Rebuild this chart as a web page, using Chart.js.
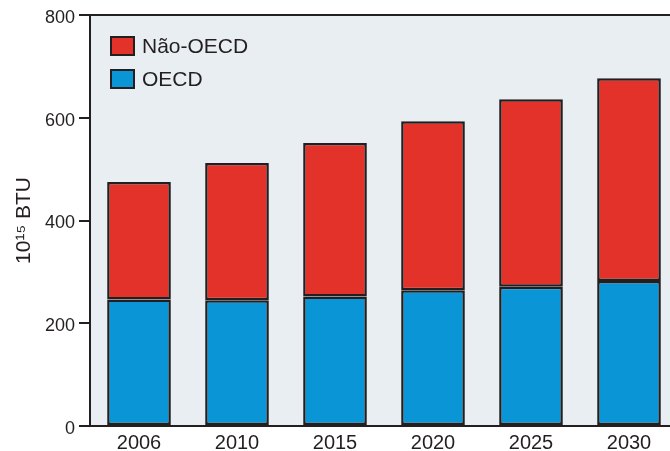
<!DOCTYPE html>
<html>
<head>
<meta charset="utf-8">
<script src="https://cdn.jsdelivr.net/npm/chart.js@4.4.1/dist/chart.umd.min.js"></script>
<style>
    html, body { margin: 0; padding: 0; background: #fff; overflow: hidden; }
    #wrap { width: 680px; height: 451px; }
</style>
</head>
<body>
<div id="wrap"><canvas id="energyChart"></canvas></div>
<script>
const years = ['2006', '2010', '2015', '2020', '2025', '2030'];
const oecd = [246, 245, 252, 264, 271, 282];
const naoOecd = [229, 267, 299, 329, 365, 395];
const yTicks = [0, 200, 400, 600, 800];

const INK = '#231f20';
const FONT = '"Liberation Sans", Arial, sans-serif';

// plot background + top frame line
const framePlugin = {
    id: 'frame',
    beforeDraw(chart) {
        const { ctx, chartArea: a } = chart;
        ctx.save();
        ctx.fillStyle = '#e9eef2';
        ctx.fillRect(a.left, a.top, a.right - a.left, a.bottom - a.top);
        ctx.restore();
    },
    afterDraw(chart) {
        const { ctx, chartArea: a } = chart;
        ctx.save();
        ctx.strokeStyle = INK;
        ctx.lineWidth = 2;
        ctx.beginPath();
        ctx.moveTo(a.left, a.top);
        ctx.lineTo(a.right, a.top);
        ctx.stroke();
        ctx.restore();
    }
};

// legend drawn inside the plot, top-left
const insideLegend = {
    id: 'insideLegend',
    afterDraw(chart) {
        const { ctx, chartArea: a } = chart;
        const items = chart.data.datasets.slice().reverse();
        ctx.save();
        ctx.font = '21px ' + FONT;
        ctx.textBaseline = 'middle';
        items.forEach((ds, i) => {
            const x = a.left + 21;
            const y = a.top + 22 + i * 33;
            ctx.fillStyle = ds.backgroundColor;
            ctx.fillRect(x, y, 23, 18);
            ctx.strokeStyle = INK;
            ctx.lineWidth = 2;
            ctx.strokeRect(x, y, 23, 18);
            ctx.fillStyle = INK;
            ctx.fillText(ds.label, x + 31, y + 10);
        });
        ctx.restore();
    }
};

new Chart(document.getElementById('energyChart'), {
    type: 'bar',
    data: {
        labels: years,
        datasets: [
            { label: 'OECD', data: oecd, backgroundColor: '#0a96d6' },
            { label: 'Não-OECD', data: naoOecd, backgroundColor: '#e2322a' }
        ].map(ds => Object.assign(ds, {
            borderColor: INK,
            borderWidth: 2.5,
            borderSkipped: false,
            categoryPercentage: 1,
            barPercentage: 0.65
        }))
    },
    options: {
        responsive: true,
        maintainAspectRatio: false,
        animation: false,
        layout: { padding: { top: 15, right: 2, bottom: 0, left: 0 } },
        plugins: { legend: { display: false }, tooltip: { enabled: false } },
        scales: {
            x: {
                stacked: true,
                grid: { display: false, drawTicks: false },
                border: { color: INK, width: 2 },
                ticks: { color: INK, font: { family: FONT, size: 20 }, padding: 5 },
                afterFit(scale) { scale.height = 25; }
            },
            y: {
                stacked: true,
                min: 0,
                max: 800,
                afterBuildTicks(scale) { scale.ticks = yTicks.map(v => ({ value: v })); },
                grid: { drawOnChartArea: false, drawTicks: true, tickLength: 11, color: INK, lineWidth: 2 },
                border: { color: INK, width: 2 },
                ticks: { color: INK, font: { family: FONT, size: 18 }, padding: 4, labelOffset: 3 },
                title: {
                    display: true,
                    text: '10¹⁵ BTU',
                    color: INK,
                    font: { family: FONT, size: 21 },
                    padding: { top: 12, bottom: 0 }
                },
                afterFit(scale) { scale.width = 90; }
            }
        }
    },
    plugins: [framePlugin, insideLegend]
});
</script>
</body>
</html>
